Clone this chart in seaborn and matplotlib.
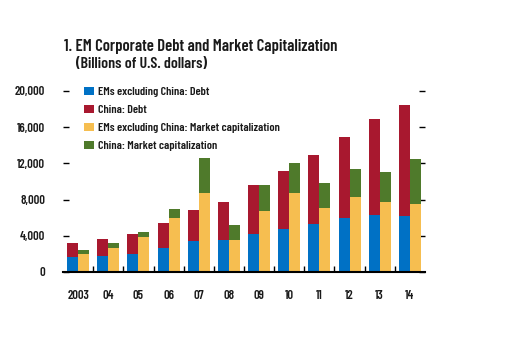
import matplotlib
matplotlib.use("Agg")
import matplotlib.pyplot as plt
from matplotlib import font_manager
from matplotlib.patches import Patch
import seaborn as sns
import pandas as pd

years = ["2003", "04", "05", "06", "07", "08", "09", "10", "11", "12", "13", "14"]
em_debt = [1620, 1810, 2030, 2700, 3480, 3590, 4150, 4730, 5290, 5960, 6290, 6180]
china_debt_total = [3250, 3700, 4250, 5370, 6810, 7700, 9590, 11180, 12920, 14920, 16920, 18480]
em_mcap = [2030, 2700, 3920, 5920, 8700, 3590, 6700, 8700, 7070, 8290, 7730, 7510]
china_mcap_total = [2480, 3150, 4370, 6920, 12560, 5140, 9590, 12030, 9810, 11370, 11030, 12480]

labels = ["EMs excluding China: Debt", "China: Debt",
          "EMs excluding China: Market capitalization", "China: Market capitalization"]
c_blue, c_red, c_yellow, c_green = "#0071C5", "#A8182F", "#F6BE50", "#4F7A2B"

sns.set_theme(style="white")
avail = {f.name for f in font_manager.fontManager.ttflist}
fam = "Barlow Condensed" if "Barlow Condensed" in avail else "Liberation Sans"
plt.rcParams["font.family"] = [fam, "DejaVu Sans"]
W = 600

top = pd.DataFrame({"year": years * 2,
                    "kind": ["Debt"] * 12 + ["Mcap"] * 12,
                    "value": china_debt_total + china_mcap_total})
bottom = pd.DataFrame({"year": years * 2,
                       "kind": ["Debt"] * 12 + ["Mcap"] * 12,
                       "value": em_debt + em_mcap})

fig = plt.figure(figsize=(5.11, 3.61), dpi=100)
ax = fig.add_axes([63 / 511, 1 - 272 / 361, (425 - 63) / 511, (272 - 91) / 361])

sns.barplot(data=top, x="year", y="value", hue="kind", hue_order=["Debt", "Mcap"],
            palette=[c_red, c_green], dodge=True, width=0.733, gap=0, saturation=1,
            linewidth=0, errorbar=None, legend=False, ax=ax)
sns.barplot(data=bottom, x="year", y="value", hue="kind", hue_order=["Debt", "Mcap"],
            palette=[c_blue, c_yellow], dodge=True, width=0.733, gap=0, saturation=1,
            linewidth=0, errorbar=None, legend=False, ax=ax)

ax.set_xlim(-0.5, 11.5)
ax.set_ylim(0, 20000)
ax.set_xlabel("")
ax.set_ylabel("")
for s in ["left", "right", "top"]:
    ax.spines[s].set_visible(False)
ax.spines["bottom"].set_color("black")
ax.spines["bottom"].set_linewidth(1.5)

ax.set_yticks([0, 4000, 8000, 12000, 16000, 20000])
ax.set_yticklabels(["0", "4,000", "8,000", "12,000", "16,000", "20,000"],
                   fontsize=9, fontweight=W)
ax.tick_params(axis="y", which="both", direction="in", length=4, width=1, color="black",
               left=True, right=True, pad=13, labelcolor="#1a1a1a")
ax.set_xticks(range(12))
ax.set_xticklabels(years, fontsize=9, fontweight=W)
ax.set_xticks([i + 0.5 for i in range(11)], minor=True)
ax.tick_params(axis="x", which="major", length=0, pad=13, labelcolor="#1a1a1a")
ax.tick_params(axis="x", which="minor", direction="in", length=4, width=1,
               color="black", bottom=True)

handles = [Patch(facecolor=c, edgecolor="none") for c in [c_blue, c_red, c_yellow, c_green]]
leg = ax.legend(handles, labels, loc="upper left", bbox_to_anchor=(84 / 511, 1 - 87 / 361),
                bbox_transform=fig.transFigure, frameon=False, fontsize=8.7,
                handlelength=0.8, handleheight=0.7, handletextpad=0.35,
                labelspacing=0.62, borderaxespad=0, borderpad=0)
for t in leg.get_texts():
    t.set_fontweight(W)
    t.set_color("#1a1a1a")

fig.text(64 / 511, 1 - 46 / 361, "1. EM Corporate Debt and Market Capitalization",
         fontsize=12, fontweight=W, va="center", ha="left", color="#1a1a1a")
fig.text(76 / 511, 1 - 64 / 361, "(Billions of U.S. dollars)",
         fontsize=11.5, fontweight=W, va="center", ha="left", color="#1a1a1a")

fig.savefig("out.png", dpi=100)
